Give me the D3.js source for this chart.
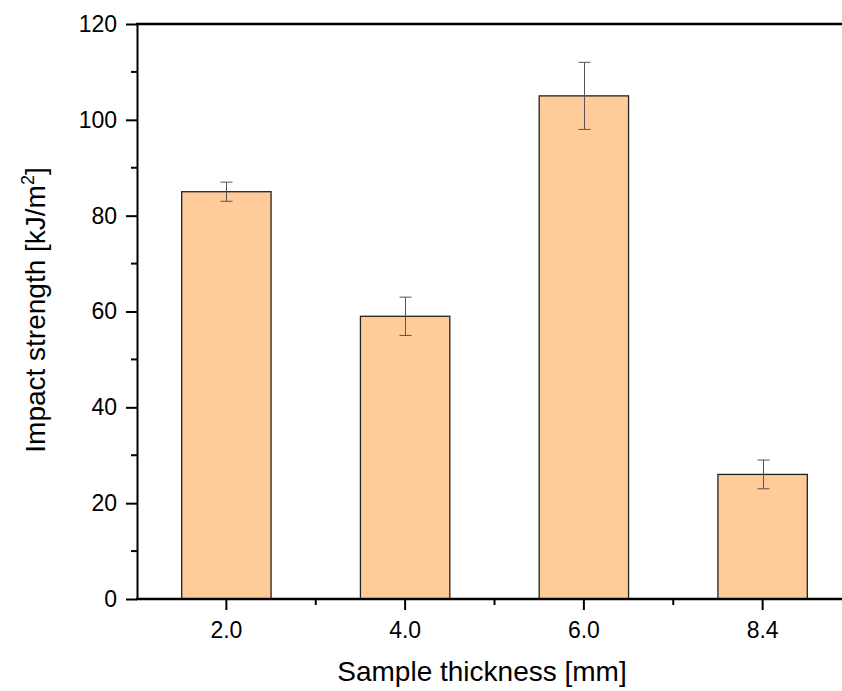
<!DOCTYPE html>
<html>
<head>
<meta charset="utf-8">
<script src="https://cdn.jsdelivr.net/npm/d3@7"></script>
<style>
  body { margin: 0; background: #fff; }
  svg { display: block; }
</style>
</head>
<body>
<svg width="842" height="691"></svg>
<script>
// Data
var thickness = ['2.0', '4.0', '6.0', '8.4']
var strength = [85, 59, 105, 26]
var strengthErr = [2, 4, 7, 3]
var yTicks = [0, 20, 40, 60, 80, 100, 120]

var font = '"Liberation Sans", Arial, sans-serif'
var svg = d3.select('svg').style('font-family', font)
var margin = { left: 137, top: 24, bottom: 599 }
var plotRight = 852

var x = d3.scaleBand()
  .domain(thickness)
  .range([margin.left, plotRight])
  .padding(0.5)
  .paddingOuter(0.25)

var y = d3.scaleLinear()
  .domain([0, 120])
  .range([margin.bottom, margin.top])

// Bars
svg.append('g')
  .selectAll('rect')
  .data(thickness)
  .enter()
  .append('rect')
  .attr('x', function(d) { return x(d) })
  .attr('y', function(d, i) { return y(strength[i]) })
  .attr('width', x.bandwidth())
  .attr('height', function(d, i) { return y(0) - y(strength[i]) })
  .attr('fill', '#ffcc99')
  .attr('stroke', '#222')
  .attr('stroke-width', 1.3)

// Error bars
var eb = svg.append('g')
  .attr('stroke', '#555')
  .attr('stroke-width', 1)
thickness.forEach(function(d, i) {
  var cx = Math.round(x(d) + x.bandwidth() / 2) + 0.5
  var hi = y(strength[i] + strengthErr[i])
  var lo = y(strength[i] - strengthErr[i])
  eb.append('line').attr('x1', cx).attr('x2', cx).attr('y1', hi).attr('y2', lo)
  eb.append('line').attr('x1', cx - 6).attr('x2', cx + 6).attr('y1', hi).attr('y2', hi)
  eb.append('line').attr('x1', cx - 6).attr('x2', cx + 6).attr('y1', lo).attr('y2', lo)
})

// Y axis
var yAxis = svg.append('g')
  .attr('transform', 'translate(' + margin.left + ',0)')
  .call(d3.axisLeft(y).tickValues(yTicks).tickSize(11).tickSizeOuter(0).tickPadding(9))
yAxis.selectAll('.tick text').attr('font-size', 23).attr('font-family', font).attr('fill', '#000')
yAxis.select('.domain').attr('stroke-width', 2)
yAxis.selectAll('.tick line').attr('stroke-width', 2)
// minor y ticks
svg.append('g')
  .selectAll('line')
  .data(d3.range(10, 120, 20))
  .enter()
  .append('line')
  .attr('x1', margin.left - 6)
  .attr('x2', margin.left)
  .attr('y1', function(d) { return y(d) })
  .attr('y2', function(d) { return y(d) })
  .attr('stroke', '#000')
  .attr('stroke-width', 2)

// Top border
svg.append('line')
  .attr('x1', margin.left - 1)
  .attr('x2', plotRight)
  .attr('y1', margin.top)
  .attr('y2', margin.top)
  .attr('stroke', '#000')
  .attr('stroke-width', 2.5)

// X axis
var xAxis = svg.append('g')
  .attr('transform', 'translate(0,' + margin.bottom + ')')
  .call(d3.axisBottom(x).tickSize(11).tickSizeOuter(0).tickPadding(12))
xAxis.selectAll('.tick text').attr('font-size', 23).attr('font-family', font).attr('fill', '#000')
xAxis.select('.domain').attr('stroke-width', 2.5).attr('d', 'M' + (margin.left - 1) + ',0H' + plotRight)
xAxis.selectAll('.tick line').attr('stroke-width', 2)
// minor x ticks between categories
svg.append('g')
  .selectAll('line')
  .data(thickness.slice(1))
  .enter()
  .append('line')
  .attr('x1', function(d) { return x(d) + x.bandwidth() / 2 - x.step() / 2 })
  .attr('x2', function(d) { return x(d) + x.bandwidth() / 2 - x.step() / 2 })
  .attr('y1', margin.bottom)
  .attr('y2', margin.bottom + 6)
  .attr('stroke', '#000')
  .attr('stroke-width', 2)

// Axis titles
svg.append('text')
  .attr('x', 482)
  .attr('y', 681)
  .attr('text-anchor', 'middle')
  .attr('font-size', 28)
  .text('Sample thickness [mm]')

var yt = svg.append('text')
  .attr('transform', 'translate(45,310) rotate(-90)')
  .attr('text-anchor', 'middle')
  .attr('font-size', 28)
yt.append('tspan').text('Impact strength [kJ/m')
yt.append('tspan').attr('font-size', 18).attr('dy', -11).text('2')
yt.append('tspan').attr('dy', 11).text(']')
</script>
</body>
</html>
